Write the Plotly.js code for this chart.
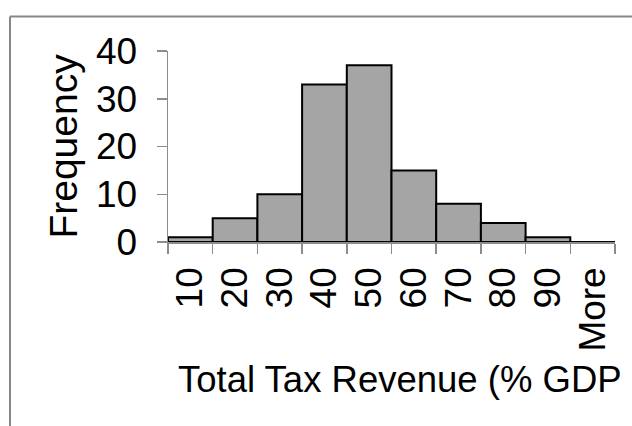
<!DOCTYPE html>
<html>
<head>
<meta charset="utf-8">
<script src="https://cdn.plot.ly/plotly-3.0.1.min.js"></script>
<style>
  html, body { margin: 0; padding: 0; background: #ffffff; }
  #chart { width: 632px; height: 426px; }
</style>
</head>
<body>
<div id="chart"></div>
<script>
// Data
var binLabels = ["10", "20", "30", "40", "50", "60", "70", "80", "90", "More"];
var frequencies = [1, 5, 10, 33, 37, 15, 8, 4, 1, 0];
var yTickValues = [0, 10, 20, 30, 40];
var xTitleText = "Total Tax Revenue (% GDP";
var yTitleText = "Frequency";

var FONT = "Liberation Sans, Arial, sans-serif";
var AXIS_GREY = "#8c8c8c";

var trace = {
  type: "bar",
  x: binLabels,
  y: frequencies,
  marker: { color: "#a5a5a5", line: { color: "#000000", width: 2 } },
  hoverinfo: "x+y"
};

// plot-area geometry in pixels (used to place the outer frame lines)
var M = { l: 168, r: 17, t: 51, b: 184 };
var W = 632 - M.l - M.r, H = 426 - M.t - M.b;
function px(x) { return (x - M.l) / W; }
function py(y) { return (426 - M.b - y) / H; }

var layout = {
  width: 632,
  height: 426,
  margin: M,
  paper_bgcolor: "#ffffff",
  plot_bgcolor: "#ffffff",
  showlegend: false,
  bargap: 0,
  font: { family: FONT, color: "#000000", size: 36 },
  xaxis: {
    type: "category",
    range: [-0.5, 9.5],
    tickson: "boundaries",
    ticks: "outside",
    ticklen: 10,
    tickwidth: 1.5,
    tickcolor: AXIS_GREY,
    showline: true,
    linecolor: AXIS_GREY,
    linewidth: 1.5,
    showgrid: false,
    zeroline: false,
    tickangle: -90,
    tickfont: { family: FONT, size: 37, color: "#000000" },
    ticklabelstandoff: 9,
    fixedrange: true
  },
  yaxis: {
    range: [0, 40],
    tickvals: yTickValues,
    ticktext: yTickValues.map(String),
    ticks: "outside",
    ticklen: 10,
    tickwidth: 1.5,
    tickcolor: AXIS_GREY,
    showline: true,
    linecolor: AXIS_GREY,
    linewidth: 1.5,
    showgrid: false,
    zeroline: false,
    tickfont: { family: FONT, size: 37, color: "#000000" },
    ticklabelstandoff: 12,
    title: { text: yTitleText, font: { family: FONT, size: 39, color: "#000000" }, standoff: 6 },
    fixedrange: true
  },
  annotations: [{
    text: xTitleText,
    xref: "paper", yref: "paper",
    x: px(176), y: py(402),
    xanchor: "left", yanchor: "bottom",
    showarrow: false,
    font: { family: FONT, size: 36.5, color: "#000000" }
  }],
  shapes: [
    { type: "line", xref: "paper", yref: "paper", x0: px(10), x1: px(632), y0: py(16.5), y1: py(16.5),
      line: { color: "#888888", width: 2 } },
    { type: "line", xref: "paper", yref: "paper", x0: px(10), x1: px(10), y0: py(16.5), y1: py(426),
      line: { color: "#888888", width: 2 } }
  ]
};

Plotly.newPlot("chart", [trace], layout, { displayModeBar: false, staticPlot: true });
</script>
</body>
</html>
